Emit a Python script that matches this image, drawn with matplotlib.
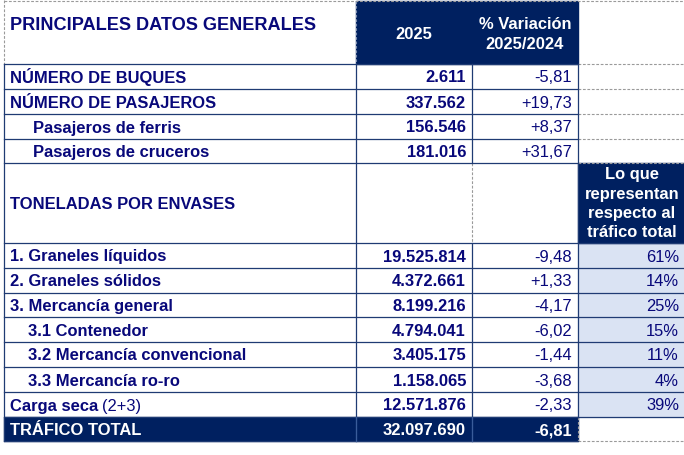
import matplotlib
matplotlib.use('Agg')
import matplotlib.pyplot as plt
from matplotlib.patches import Rectangle

# ===== table content
labels = ['NÚMERO DE BUQUES', 'NÚMERO DE PASAJEROS', 'Pasajeros de ferris',
          'Pasajeros de cruceros', 'TONELADAS POR ENVASES',
          '1. Graneles líquidos', '2. Graneles sólidos', '3. Mercancía general',
          '3.1 Contenedor', '3.2 Mercancía convencional', '3.3 Mercancía ro-ro',
          'Carga seca', 'TRÁFICO TOTAL']
values_2025 = [2611, 337562, 156546, 181016, None, 19525814, 4372661,
               8199216, 4794041, 3405175, 1158065, 12571876, 32097690]
variation = [-5.81, 19.73, 8.37, 31.67, None, -9.48, 1.33, -4.17, -6.02,
             -1.44, -3.68, -2.33, -6.81]
share = [None, None, None, None, None, 61, 14, 25, 15, 11, 4, 39, None]

title = 'PRINCIPALES DATOS GENERALES'
col_head_2 = '2025'
col_head_3 = ['% Variación', '2025/2024']
col_head_4 = ['Lo que', 'representan', 'respecto al', 'tráfico total']

# ===== layout (pixels)
W, H = 684, 455
x_cols = [4, 356, 472, 578, 684]
y_rows = [64, 89, 114, 139, 163, 243, 268, 293, 317, 342, 367, 392, 417, 441]
indent = {2: 33, 3: 33, 8: 28, 9: 28, 10: 28}

navy = '#002060'
text_c = '#08087A'
line_c = '#1F3B73'
dash_c = '#9A9A9A'
light = '#DAE3F3'
fs = 11.9
fam = ['Liberation Sans', 'DejaVu Sans']

fig = plt.figure(figsize=(W / 100, H / 100), dpi=100)
ax = fig.add_axes([0, 0, 1, 1])
ax.set_xlim(0, W)
ax.set_ylim(H, 0)
ax.axis('off')


def hline(y, x0, x1, dashed=False, color=None, lw=0.9):
    if dashed:
        ax.plot([x0, x1], [y, y], color=color or dash_c, lw=0.8,
                ls=(0, (2.5, 1.5)), zorder=3)
    else:
        ax.plot([x0, x1], [y, y], color=color or line_c, lw=lw, zorder=4)


def vline(x, y0, y1, dashed=False, color=None, lw=0.9):
    if dashed:
        ax.plot([x, x], [y0, y1], color=color or dash_c, lw=0.8,
                ls=(0, (2.5, 1.5)), zorder=3)
    else:
        ax.plot([x, x], [y0, y1], color=color or line_c, lw=lw, zorder=4)


def txt(x, y, s, ha='left', bold=True, color=text_c, size=fs):
    return ax.text(x, y, s, ha=ha, va='baseline', fontsize=size,
                   fontweight='bold' if bold else 'normal', color=color,
                   family=fam, zorder=5)


# ===== header
hline(1, x_cols[0], W, dashed=True)
vline(x_cols[0], 0, y_rows[0], dashed=True)
ax.add_patch(Rectangle((x_cols[1], 1), x_cols[3] - x_cols[1], y_rows[0] - 1,
                       color=navy, zorder=2))
vline(x_cols[1], 1, y_rows[0], dashed=True, color='#7F8FB0')
txt(10.5, 30, title, size=13.1)
txt((x_cols[1] + x_cols[2]) / 2, 39, col_head_2, ha='center', color='white')
txt((x_cols[2] + x_cols[3]) / 2, 29, col_head_3[0], ha='center', color='white')
txt((x_cols[2] + x_cols[3]) / 2, 49, col_head_3[1], ha='center', color='white')

# dashed lines in the 4th column above its header
for y in y_rows[:5]:
    hline(y, x_cols[3], W, dashed=True)

# ===== fills
ax.add_patch(Rectangle((x_cols[3], y_rows[4]), W - x_cols[3],
                       y_rows[5] - y_rows[4], color=navy, zorder=2))
ax.add_patch(Rectangle((x_cols[3], y_rows[5]), W - x_cols[3],
                       y_rows[12] - y_rows[5], color=light, zorder=1))
ax.add_patch(Rectangle((x_cols[0], y_rows[12]), x_cols[3] - x_cols[0],
                       y_rows[13] - y_rows[12], color=navy, zorder=2))
hline(y_rows[13], x_cols[3], W, dashed=True)
vline(x_cols[3], y_rows[12], y_rows[13], dashed=True)

ly = [179, 198.5, 218, 237]
for s, y in zip(col_head_4, ly):
    txt((x_cols[3] + W) / 2 + 1, y, s, ha='center', color='white')

# ===== grid lines
for y in y_rows:
    hline(y, x_cols[0], x_cols[3])
for y in y_rows[5:13]:
    hline(y, x_cols[3], W)
vline(x_cols[0], y_rows[0], y_rows[-1])
vline(x_cols[1], y_rows[0], y_rows[-1])
vline(x_cols[2], y_rows[0], y_rows[4])
vline(x_cols[2], y_rows[4], y_rows[5], dashed=True)
vline(x_cols[2], y_rows[5], y_rows[-1])
vline(x_cols[3], y_rows[0], y_rows[12])
for xc in x_cols[1:3]:
    vline(xc, y_rows[12], y_rows[13], color='#3A5C9A')

# ===== rows
for i, lab in enumerate(labels):
    top, bot = y_rows[i], y_rows[i + 1]
    base = (top + bot) / 2 + 6
    col = 'white' if i == len(labels) - 1 else text_c
    x0 = indent.get(i, 10)
    t = txt(x0, base, lab, color=col)
    if lab == 'Carga seca':
        fig.canvas.draw()
        bb = t.get_window_extent().transformed(ax.transData.inverted())
        txt(bb.x1 + 4, base, '(2+3)', bold=False)
    if values_2025[i] is not None:
        s = f'{values_2025[i]:,}'.replace(',', '.')
        txt(x_cols[2] - 6, base, s, ha='right', color=col)
    if variation[i] is not None:
        s = f'{variation[i]:+.2f}'.replace('.', ',')
        if variation[i] < 0:
            s = s.replace('+', '')
        txt(x_cols[3] - 6, base, s, ha='right', color=col,
            bold=(i == len(labels) - 1))
    if share[i] is not None:
        txt(W - 5, base, f'{share[i]}%', ha='right', bold=False)

fig.savefig('out.png', dpi=100)
